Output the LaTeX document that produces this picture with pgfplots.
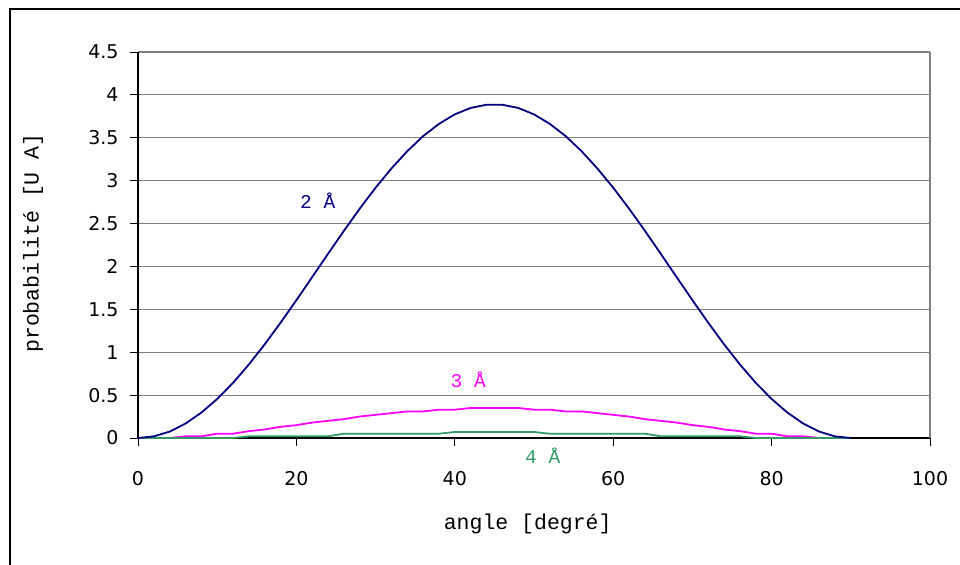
\documentclass[border=0pt]{standalone}
\usepackage{pgfplots}
\pgfplotsset{compat=1.18}
\usepackage{fontspec}
\setmainfont{Liberation Mono}
\newfontfamily\dejavu{DejaVu Sans}
\definecolor{c2}{RGB}{0,0,128}
\definecolor{c3}{RGB}{255,0,255}
\definecolor{c4}{RGB}{51,153,102}
\definecolor{gridgray}{RGB}{128,128,128}
\begin{document}
\begin{tikzpicture}
\useasboundingbox (0,0) rectangle (960bp,565bp);
\draw[line width=2bp] (9.5bp,-20bp) |- (990bp,555.5bp);
\begin{axis}[
  at={(138bp,127bp)}, anchor=south west,
  scale only axis, width=792bp, height=386bp,
  xmin=0, xmax=100, ymin=0, ymax=4.5,
  xtick={0,20,...,100}, ytick={0,0.5,...,4.5},
  axis lines*=left,
  axis line style={black, line width=1.3bp},
  tick align=outside, major tick length=8bp,
  tick style={black, line width=0.8bp},
  ymajorgrids, major grid style={gridgray, line width=1.2bp},
  /pgf/number format/assume math mode=true,
  /pgf/number format/fixed,
  ticklabel style={font=\dejavu\fontsize{19bp}{20bp}\selectfont},
  xticklabel style={anchor=center, yshift=-33bp},
  yticklabel style={anchor=east, xshift=-8bp},
  label style={font=\fontsize{21.5bp}{23bp}\selectfont},
  xlabel={angle [degré]},
  ylabel={probabilité [U A]},
  xlabel style={at={(axis description cs:0.492,-0.222)}, anchor=center},
  ylabel style={at={(axis description cs:-0.1326,0.505)}, anchor=center},
  clip=false,
]
\draw[gridgray, line width=2bp] (axis cs:100,0) -- (axis cs:100,4.5);
\addplot[c3, line width=1.8bp] coordinates {
(0,0)(2,0)(4,0)(6,0.02)(8,0.02)(10,0.05)(12,0.05)(14,0.08)(16,0.10)(18,0.13)(20,0.15)
(22,0.18)(24,0.20)(26,0.22)(28,0.25)(30,0.27)(32,0.29)(34,0.31)(36,0.31)(38,0.33)(40,0.33)
(42,0.35)(44,0.35)(46,0.35)(48,0.35)(50,0.33)(52,0.33)(54,0.31)(56,0.31)(58,0.29)(60,0.27)
(62,0.25)(64,0.22)(66,0.20)(68,0.18)(70,0.15)(72,0.13)(74,0.10)(76,0.08)(78,0.05)(80,0.05)
(82,0.02)(84,0.02)(86,0)(88,0)(90,0)};
\addplot[c4, line width=1.8bp] coordinates {
(0,0)(2,0)(4,0)(6,0)(8,0)(10,0)(12,0)(14,0.02)(16,0.02)(18,0.02)(20,0.02)(22,0.02)(24,0.02)
(26,0.05)(28,0.05)(30,0.05)(32,0.05)(34,0.05)(36,0.05)(38,0.05)(40,0.07)(42,0.07)(44,0.07)
(46,0.07)(48,0.07)(50,0.07)(52,0.05)(54,0.05)(56,0.05)(58,0.05)(60,0.05)(62,0.05)(64,0.05)
(66,0.02)(68,0.02)(70,0.02)(72,0.02)(74,0.02)(76,0.02)(78,0)(80,0)(82,0)(84,0)(86,0)(88,0)(90,0)};
\addplot[c2, line width=1.8bp] coordinates {
(0,0)(2,0.019)(4,0.075)(6,0.168)(8,0.296)(10,0.455)(12,0.643)(14,0.857)(16,1.092)(18,1.344)
(20,1.607)(22,1.877)(24,2.148)(26,2.416)(28,2.674)(30,2.918)(32,3.142)(34,3.344)(36,3.519)
(38,3.662)(40,3.773)(42,3.848)(44,3.885)(46,3.885)(48,3.848)(50,3.773)(52,3.662)(54,3.519)
(56,3.344)(58,3.142)(60,2.918)(62,2.674)(64,2.416)(66,2.148)(68,1.877)(70,1.607)(72,1.344)
(74,1.092)(76,0.857)(78,0.643)(80,0.455)(82,0.296)(84,0.168)(86,0.075)(88,0.019)(90,0)};
\node[c2, font=\fontsize{19.5bp}{21bp}\selectfont] at (axis cs:22.7,2.77) {2 Å};
\node[c3, font=\fontsize{19.5bp}{21bp}\selectfont] at (axis cs:41.7,0.68) {3 Å};
\node[c4, font=\fontsize{19.5bp}{21bp}\selectfont] at (axis cs:51.1,-0.21) {4 Å};
\end{axis}
\end{tikzpicture}
\end{document}
